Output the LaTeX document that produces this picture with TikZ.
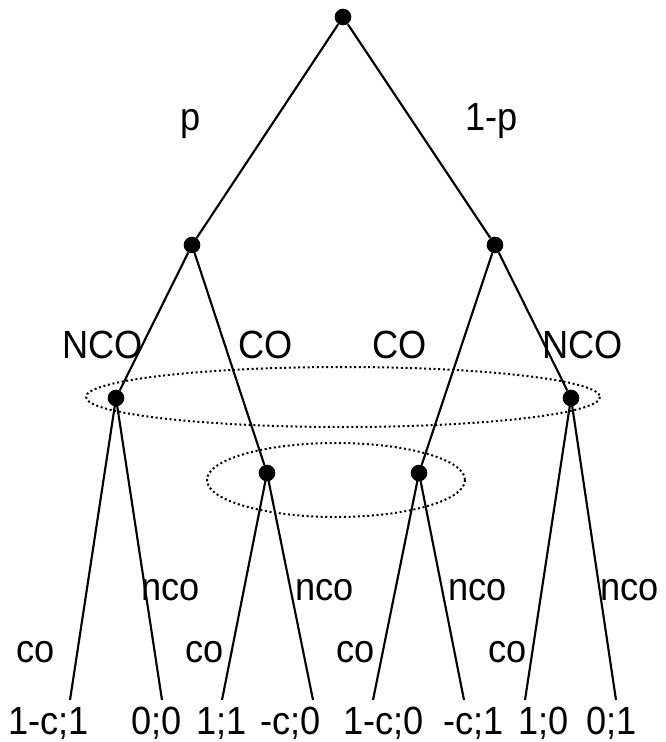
\documentclass[tikz,border=0pt]{standalone}
\usepackage{fontspec}
\setmainfont{Liberation Sans}[FakeStretch=0.92]
\begin{document}
\begin{tikzpicture}[x=0.75pt,y=-0.75pt,
  dot/.style={circle,fill=black,inner sep=0pt,minimum size=12.5pt},
  branch/.style={line width=1.6pt},
  info/.style={dotted,line width=1.5pt},
  lbl/.style={anchor=base west,inner sep=0pt,font=\fontsize{29.5}{29.5}\selectfont}]
\useasboundingbox (0,0) rectangle (665,742);
% information sets
\draw[info] (343,397) ellipse [x radius=257, y radius=30];
\draw[info] (336,480) ellipse [x radius=129, y radius=37];
% decision nodes
\node[dot] (r) at (343,17) {};
\node[dot] (a) at (192,245) {};
\node[dot] (b) at (495,245) {};
\node[dot] (a1) at (116,398) {};
\node[dot] (a2) at (267,473) {};
\node[dot] (b1) at (419,473) {};
\node[dot] (b2) at (571,398) {};
% leaves
\coordinate (l1) at (70,700);
\coordinate (l2) at (162,700);
\coordinate (l3) at (222,700);
\coordinate (l4) at (313,700);
\coordinate (l5) at (373,700);
\coordinate (l6) at (464,700);
\coordinate (l7) at (525,700);
\coordinate (l8) at (616,700);
% branches
\draw[branch] (r) -- (a);
\draw[branch] (r) -- (b);
\draw[branch] (a) -- (a1);
\draw[branch] (a) -- (a2);
\draw[branch] (b) -- (b1);
\draw[branch] (b) -- (b2);
\draw[branch] (a1.center) -- (l1);
\draw[branch] (a1.center) -- (l2);
\draw[branch] (a2.center) -- (l3);
\draw[branch] (a2.center) -- (l4);
\draw[branch] (b1.center) -- (l5);
\draw[branch] (b1.center) -- (l6);
\draw[branch] (b2.center) -- (l7);
\draw[branch] (b2.center) -- (l8);
% branch labels
\node[lbl] (tp) at (180,130) {p};
\node[lbl] (tq) at (465,130) {1-p};
\node[lbl] (n1) at (62,358) {NCO};
\node[lbl] (c1) at (238,358) {CO};
\node[lbl] (c2) at (372,358) {CO};
\node[lbl] (n2) at (542,358) {NCO};
\node[lbl] (m1) at (141,600) {nco};
\node[lbl] (m2) at (295,600) {nco};
\node[lbl] (m3) at (448,600) {nco};
\node[lbl] (m4) at (600,600) {nco};
\node[lbl] (k1) at (16,662) {co};
\node[lbl] (k2) at (185,662) {co};
\node[lbl] (k3) at (336,662) {co};
\node[lbl] (k4) at (488,662) {co};
% payoffs
\node[lbl] (p1) at (8,734) {1-c;1};
\node[lbl] (p2) at (131,734) {0;0};
\node[lbl] (p3) at (196,734) {1;1};
\node[lbl] (p4) at (260,734) {-c;0};
\node[lbl] (p5) at (343,734) {1-c;0};
\node[lbl] (p6) at (443,734) {-c;1};
\node[lbl] (p7) at (518,734) {1;0};
\node[lbl] (p8) at (586,734) {0;1};
\end{tikzpicture}
\end{document}
